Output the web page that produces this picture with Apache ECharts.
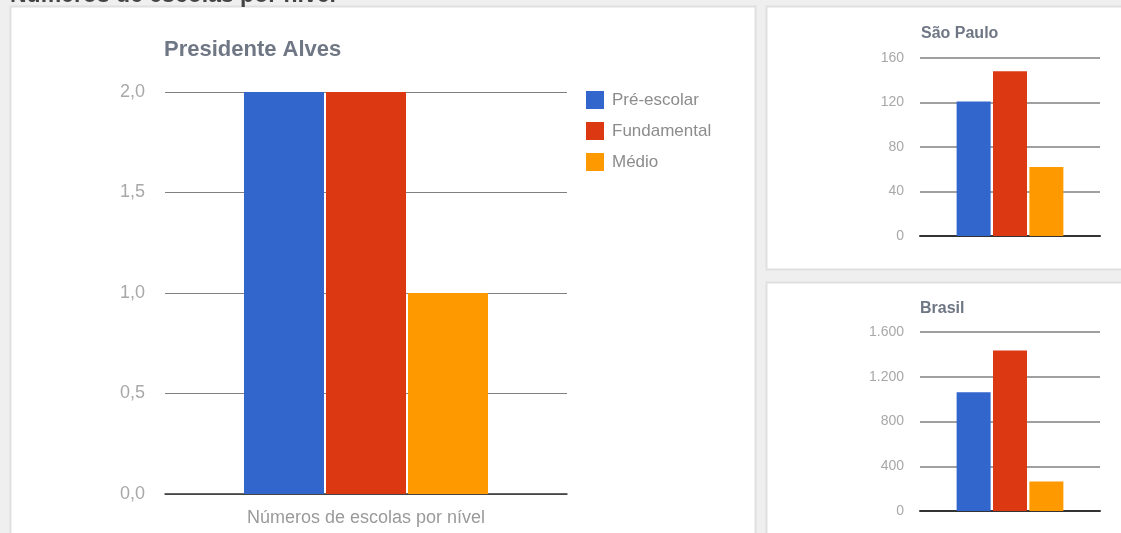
<!DOCTYPE html>
<html><head><meta charset="utf-8">
<script src="https://cdn.jsdelivr.net/npm/echarts@6/dist/echarts.min.js"></script>
<style>html,body{margin:0;padding:0;background:#efefef;overflow:hidden;}#c{width:1121px;height:533px;}</style>
</head><body><div id="c"></div>
<script>
// ---- data ----
const pageTitle = 'Números de escolas por nível';
const categories = ['Números de escolas por nível'];
const seriesNames = ['Pré-escolar', 'Fundamental', 'Médio'];
const chartTitles = ['Presidente Alves', 'São Paulo', 'Brasil'];
const presidenteAlves = [2, 2, 1];
const saoPaulo = [121, 148, 62];
const brasil = [1062, 1435, 264];
const yMax = [2, 160, 1600];
const yInterval = [0.5, 40, 400];

// ---- styling ----
const FONT = 'Arial, "Liberation Sans", sans-serif';
const colors = ['#3366cc', '#dc3912', '#ff9900'];
const allValues = [presidenteAlves, saoPaulo, brasil];

function fmt(v, i) {
  if (i === 0) return v.toFixed(1).replace('.', ',');
  return String(Math.round(v)).replace(/\B(?=(\d{3})+(?!\d))/g, '.');
}

const grids = [
  {left: 165, top: 92, width: 402, height: 402},
  {left: 920, top: 58, width: 180, height: 178},
  {left: 920, top: 332, width: 180, height: 179}
];
const yLabelSize = [18, 14, 14];
const yLabelMargin = [20, 16, 16];
const gridLineW = [1, 1.5, 1.5];
const barW = [80, 34, 34];
const barGaps = ['2.5%', '7%', '7%'];

const xAxes = grids.map((g, i) => ({
  type: 'category', gridIndex: i, data: categories,
  axisTick: {show: false},
  axisLine: {show: true, lineStyle: {color: '#333', width: i === 0 ? 1.5 : 2}},
  axisLabel: {show: i === 0, color: '#9a9a9a', fontSize: 18, fontFamily: FONT, margin: 15}
}));
const yAxes = grids.map((g, i) => ({
  type: 'value', gridIndex: i, min: 0, max: yMax[i], interval: yInterval[i],
  axisLine: {show: false}, axisTick: {show: false},
  splitLine: {lineStyle: {color: '#808080', width: gridLineW[i]}},
  axisLabel: {color: '#a8a8a8', fontSize: yLabelSize[i], fontFamily: FONT, margin: yLabelMargin[i],
    formatter: v => fmt(v, i)}
}));

const series = [];
allValues.forEach((vals, i) => {
  vals.forEach((v, j) => {
    series.push({
      type: 'bar', name: seriesNames[j], xAxisIndex: i, yAxisIndex: i,
      data: [v], barWidth: barW[i], barGap: barGaps[i],
      itemStyle: {color: colors[j]}, emphasis: {disabled: true}
    });
  });
});

const chart = echarts.init(document.getElementById('c'), null, {renderer: 'canvas'});
chart.setOption({
  animation: false,
  backgroundColor: '#efefef',
  color: colors,
  graphic: [
    {type: 'rect', z: -100, shape: {x: 10.5, y: 6.5, width: 745, height: 540}, style: {fill: '#fff', stroke: '#e0e0e0', lineWidth: 2}},
    {type: 'rect', z: -100, shape: {x: 766.5, y: 6.5, width: 370, height: 263}, style: {fill: '#fff', stroke: '#e0e0e0', lineWidth: 2}},
    {type: 'rect', z: -100, shape: {x: 766.5, y: 282.5, width: 370, height: 270}, style: {fill: '#fff', stroke: '#e0e0e0', lineWidth: 2}},
    {type: 'text', z: 10, left: 10, top: -16, style: {text: pageTitle, font: 'bold 23px ' + FONT, fill: '#444'}}
  ],
  title: [
    {text: chartTitles[0], left: 164, top: 39, padding: 0, textStyle: {fontFamily: FONT, fontSize: 22, fontWeight: 'bold', color: '#6f7684'}},
    {text: chartTitles[1], left: 921, top: 26, padding: 0, textStyle: {fontFamily: FONT, fontSize: 16, fontWeight: 'bold', color: '#6f7684'}},
    {text: chartTitles[2], left: 920, top: 301, padding: 0, textStyle: {fontFamily: FONT, fontSize: 16, fontWeight: 'bold', color: '#6f7684'}}
  ],
  legend: {
    data: seriesNames, orient: 'vertical', left: 586, top: 91, padding: 0,
    itemWidth: 18, itemHeight: 18, itemGap: 13, icon: 'rect',
    textStyle: {fontFamily: FONT, fontSize: 17, color: '#8c8c8c', padding: [0, 0, 0, 3]}
  },
  grid: grids,
  xAxis: xAxes,
  yAxis: yAxes,
  series: series
});
</script></body></html>
